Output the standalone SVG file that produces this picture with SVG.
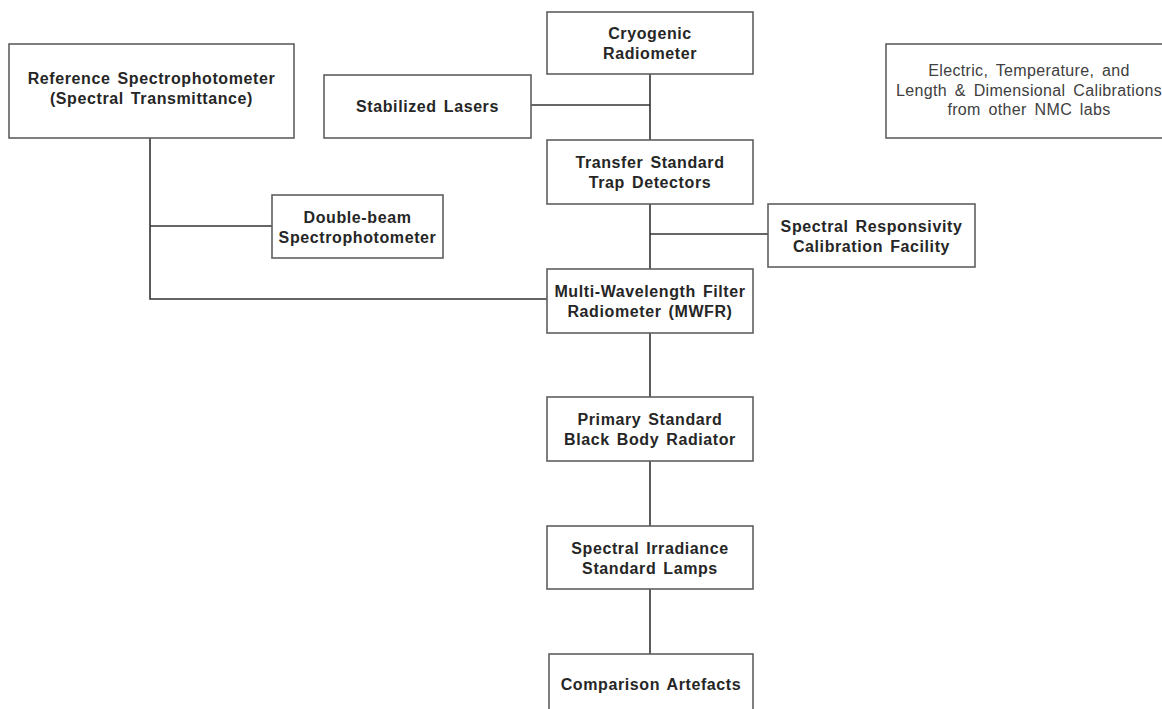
<svg xmlns="http://www.w3.org/2000/svg" width="1162" height="709" viewBox="0 0 1162 709">
  <style>
    .box { fill: #ffffff; stroke: #5f5f5f; stroke-width: 1.6; }
    .lbl { font-family: "Liberation Sans", Arial, sans-serif; font-size: 16px; font-weight: bold; fill: #262626; text-anchor: middle; letter-spacing: 0.6px; word-spacing: 2px; }
    .note { font-family: "Liberation Sans", Arial, sans-serif; font-size: 16px; fill: #404040; text-anchor: middle; letter-spacing: 0.35px; word-spacing: 3px; }
    .wire { fill: none; stroke: #333333; stroke-width: 1.6; }
  </style>
  <rect width="1162" height="709" fill="#ffffff"/>

  <!-- connectors -->
  <g id="connectors">
    <line class="wire" x1="650" y1="74" x2="650" y2="140"/>
    <line class="wire" x1="531" y1="105" x2="650" y2="105"/>
    <line class="wire" x1="650" y1="204" x2="650" y2="269"/>
    <line class="wire" x1="650" y1="234" x2="768" y2="234"/>
    <polyline class="wire" points="150,138 150,299 547,299"/>
    <line class="wire" x1="150" y1="226" x2="272" y2="226"/>
    <line class="wire" x1="650" y1="333" x2="650" y2="397"/>
    <line class="wire" x1="650" y1="461" x2="650" y2="526"/>
    <line class="wire" x1="650" y1="589" x2="650" y2="654"/>
  </g>

  <g id="reference-spectrophotometer">
    <rect class="box" x="9" y="44" width="285" height="94"/>
    <text class="lbl" x="151.5" y="84">Reference Spectrophotometer</text>
    <text class="lbl" x="151.5" y="104">(Spectral Transmittance)</text>
  </g>

  <g id="cryogenic-radiometer">
    <rect class="box" x="547" y="12" width="206" height="62"/>
    <text class="lbl" x="650" y="39">Cryogenic</text>
    <text class="lbl" x="650" y="59">Radiometer</text>
  </g>

  <g id="stabilized-lasers">
    <rect class="box" x="324" y="75" width="207" height="63"/>
    <text class="lbl" x="427.5" y="112">Stabilized Lasers</text>
  </g>

  <g id="other-calibrations">
    <rect class="box" x="886" y="44" width="290" height="94"/>
    <text class="note" x="1029" y="76">Electric, Temperature, and</text>
    <text class="note" x="1029" y="96">Length &amp; Dimensional Calibrations</text>
    <text class="note" x="1029" y="115">from other NMC labs</text>
  </g>

  <g id="transfer-standard">
    <rect class="box" x="547" y="140" width="206" height="64"/>
    <text class="lbl" x="650" y="168">Transfer Standard</text>
    <text class="lbl" x="650" y="188">Trap Detectors</text>
  </g>

  <g id="double-beam">
    <rect class="box" x="272" y="195" width="171" height="63"/>
    <text class="lbl" x="357.5" y="223">Double-beam</text>
    <text class="lbl" x="357.5" y="243">Spectrophotometer</text>
  </g>

  <g id="spectral-responsivity">
    <rect class="box" x="768" y="204" width="207" height="63"/>
    <text class="lbl" x="871.5" y="232">Spectral Responsivity</text>
    <text class="lbl" x="871.5" y="252">Calibration Facility</text>
  </g>

  <g id="mwfr">
    <rect class="box" x="547" y="269" width="206" height="64"/>
    <text class="lbl" x="650" y="297">Multi-Wavelength Filter</text>
    <text class="lbl" x="650" y="317">Radiometer (MWFR)</text>
  </g>

  <g id="black-body">
    <rect class="box" x="547" y="397" width="206" height="64"/>
    <text class="lbl" x="650" y="425">Primary Standard</text>
    <text class="lbl" x="650" y="445">Black Body Radiator</text>
  </g>

  <g id="irradiance-lamps">
    <rect class="box" x="547" y="526" width="206" height="63"/>
    <text class="lbl" x="650" y="554">Spectral Irradiance</text>
    <text class="lbl" x="650" y="574">Standard Lamps</text>
  </g>

  <g id="comparison-artefacts">
    <rect class="box" x="549" y="654" width="204" height="70"/>
    <text class="lbl" x="651" y="690">Comparison Artefacts</text>
  </g>
</svg>
